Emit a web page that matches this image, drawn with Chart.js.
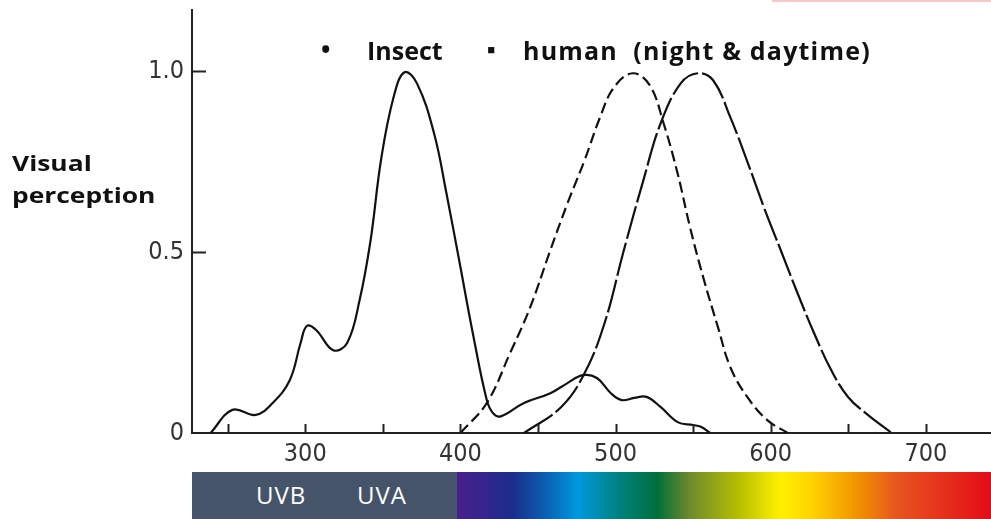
<!DOCTYPE html>
<html>
<head>
<meta charset="utf-8">
<script src="https://cdn.jsdelivr.net/npm/chart.js@4.4.1/dist/chart.umd.min.js"></script>
<style>
    html, body { margin: 0; padding: 0; background: #fff; }
    #wrap { position: relative; width: 991px; height: 519px; overflow: hidden; }
    #chart { position: absolute; left: 0; top: 0; }
    .txt { position: absolute; font-family: 'Open Sans', sans-serif; font-weight: 700; color: #111; white-space: pre; line-height: 1; }
    #ylabel { left: 12px; top: 146px; font-size: 22px; line-height: 32px; transform: scaleX(1.2); transform-origin: left top; }
    #spectrum {
        position: absolute; left: 192px; top: 472px; width: 799px; height: 47px;
        background: linear-gradient(to right,
            #46546a 0px, #46546a 265px,
            #4a1e8c 265px, #1c2d8c 321px, #0a62b4 355px, #0099dd 386px,
            #00817e 428px, #006f3b 465px, #6e8a2e 498px, #b8c000 548px,
            #fff000 588px, #ffd200 621px, #f08a00 671px, #e85520 705px, #e30b17 799px);
    }
    .uv { position: absolute; top: 11px; font-family: 'Open Sans', sans-serif; font-size: 24px; color: #fff; line-height: 1; letter-spacing: 1px; }
    #pink { position: absolute; left: 772px; top: 0; width: 219px; height: 2px; background: #f6c8c8; }
</style>
</head>
<body>
<div id="wrap">
    <canvas id="chart" width="991" height="519"></canvas>
    <div id="pink"></div>
    <div class="txt" style="left:321px; top:36px; font-size:25px;">•</div>
    <div class="txt" style="left:367px; top:38px; font-size:25px;">Insect</div>
    <div class="txt" style="left:487px; top:36px; font-size:25px;">▪</div>
    <div class="txt" style="left:523px; top:38px; font-size:25px; letter-spacing:1.2px;">human  (night &amp; daytime)</div>
    <div class="txt" id="ylabel">Visual<br>perception</div>
    <div id="spectrum">
        <span class="uv" style="left:64px;">UVB</span>
        <span class="uv" style="left:165px;">UVA</span>
    </div>
</div>
<script>
    // Longitud de onda (nm) y sensibilidad relativa
    const insectNm = [239, 253, 268, 279, 290, 297, 301, 307, 318, 327, 335, 342, 349, 357, 364, 372, 383, 391, 400, 408, 417, 421, 426, 441, 458, 469, 479, 488, 497, 504, 512, 520, 529, 540, 550, 555, 561];
    const insectVal = [0.0, 0.064, 0.05, 0.083, 0.146, 0.249, 0.296, 0.285, 0.229, 0.249, 0.367, 0.53, 0.76, 0.93, 0.998, 0.967, 0.829, 0.663, 0.459, 0.276, 0.091, 0.055, 0.046, 0.083, 0.11, 0.138, 0.16, 0.152, 0.11, 0.091, 0.097, 0.1, 0.072, 0.03, 0.022, 0.017, 0.0];

    const nightNm = [400, 417, 432, 445, 458, 469, 480, 490, 499, 511, 522, 531, 540, 548, 557, 566, 574, 585, 598, 611];
    const nightVal = [0.0, 0.083, 0.221, 0.348, 0.506, 0.635, 0.754, 0.873, 0.956, 0.995, 0.962, 0.856, 0.718, 0.569, 0.423, 0.293, 0.182, 0.099, 0.035, 0.0];

    const dayNm = [441, 465, 480, 493, 505, 518, 529, 542, 553, 563, 574, 585, 596, 607, 617, 628, 639, 650, 662, 678];
    const dayVal = [0.0, 0.072, 0.165, 0.305, 0.5, 0.7, 0.856, 0.967, 0.995, 0.975, 0.873, 0.75, 0.62, 0.5, 0.39, 0.276, 0.174, 0.099, 0.052, 0.0];

    const xLabels = [300, 400, 500, 600, 700];
    const xMarks = [250, 300, 350, 400, 450, 500, 550, 600, 650, 700];
    const yLabels = [0, 0.5, 1.0];
    const yMarks = [0.5, 1.0];

    const toPoints = (xs, ys) => xs.map((v, i) => ({ x: v, y: ys[i] }));

    // Marcas de escala hacia dentro, como en la figura escaneada
    const innerTicks = {
        id: 'innerTicks',
        afterDraw(chart) {
            const { ctx, chartArea } = chart;
            const x = chart.scales.x;
            const y = chart.scales.y;
            ctx.save();
            ctx.strokeStyle = '#222';
            ctx.lineWidth = 2;
            xMarks.forEach(v => {
                const px = Math.round(x.getPixelForValue(v)) + 0.5;
                ctx.beginPath();
                ctx.moveTo(px, chartArea.bottom);
                ctx.lineTo(px, chartArea.bottom - 9);
                ctx.stroke();
            });
            yMarks.forEach(v => {
                const py = Math.round(y.getPixelForValue(v)) + 0.5;
                ctx.beginPath();
                ctx.moveTo(chartArea.left, py);
                ctx.lineTo(chartArea.left + 14, py);
                ctx.stroke();
            });
            ctx.restore();
        }
    };

    const baseLine = {
        borderColor: '#111',
        borderWidth: 2.2,
        pointRadius: 0,
        fill: false,
        tension: 0.4
    };

    const tickFont = { family: "'Liberation Sans Narrow', 'DejaVu Sans Condensed', sans-serif", size: 25 };

    new Chart(document.getElementById('chart'), {
        type: 'line',
        data: {
            datasets: [
                { ...baseLine, label: 'Insect', data: toPoints(insectNm, insectVal) },
                { ...baseLine, label: 'Human (night)', data: toPoints(nightNm, nightVal), borderDash: [11, 5] },
                { ...baseLine, label: 'Human (daytime)', data: toPoints(dayNm, dayVal), borderDash: [34, 4] }
            ]
        },
        options: {
            responsive: false,
            devicePixelRatio: 1,
            animation: false,
            layout: { padding: { top: 10, right: 0, left: 0, bottom: 0 } },
            plugins: { legend: { display: false }, tooltip: { enabled: false } },
            scales: {
                x: {
                    type: 'linear',
                    min: 227,
                    max: 742,
                    afterFit: (s) => { s.height = 86; s.paddingLeft = 0; s.paddingRight = 0; },
                    afterBuildTicks: (s) => { s.ticks = xLabels.map(v => ({ value: v })); },
                    border: { display: true, color: '#222', width: 2 },
                    grid: { drawOnChartArea: false, drawTicks: false },
                    ticks: { color: '#333', font: tickFont, padding: 6, maxRotation: 0 }
                },
                y: {
                    min: 0,
                    max: 1.17,
                    afterFit: (s) => { s.width = 192; s.paddingTop = 0; s.paddingBottom = 0; },
                    afterBuildTicks: (s) => { s.ticks = yLabels.map(v => ({ value: v })); },
                    border: { display: true, color: '#222', width: 2 },
                    grid: { drawOnChartArea: false, drawTicks: false },
                    ticks: {
                        color: '#333',
                        font: tickFont,
                        padding: 8,
                        callback: (v) => v === 0 ? '0' : v.toFixed(1)
                    }
                }
            }
        },
        plugins: [innerTicks]
    });
</script>
</body>
</html>
